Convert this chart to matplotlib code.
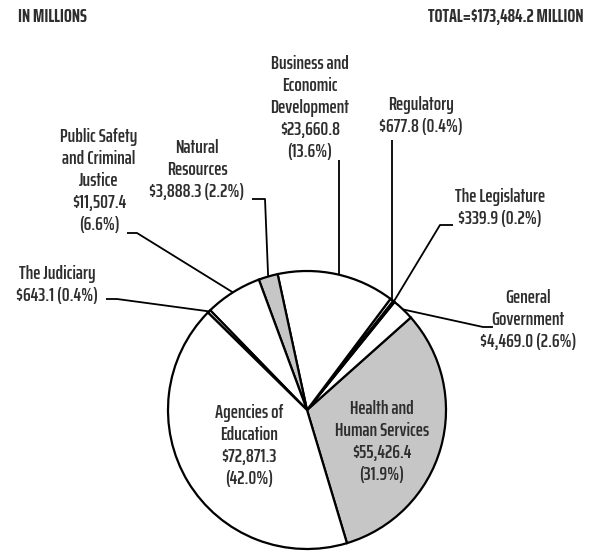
import numpy as np
import matplotlib
matplotlib.use('Agg')
from matplotlib import pyplot as plt

plt.rcParams['font.family'] = ['Saira ExtraCondensed', 'DejaVu Sans']

# slices, counter-clockwise from the Health and Human Services start edge
names = ['Health and\nHuman Services', 'General\nGovernment', 'The Legislature',
         'Regulatory', 'Business and\nEconomic\nDevelopment', 'Natural\nResources',
         'Public Safety\nand Criminal\nJustice', 'The Judiciary', 'Agencies of\nEducation']
values = [55426.4, 4469.0, 339.9, 677.8, 23660.8, 3888.3, 11507.4, 643.1, 72871.3]
pcts = [31.9, 2.6, 0.2, 0.4, 13.6, 2.2, 6.6, 0.4, 42.0]
fills = ['#c6c6c6', 'white', '#c6c6c6', 'white', 'white', '#c6c6c6', 'white', 'white', 'white']
total_label = 'TOTAL=$173,484.2 MILLION'

W, H = 591, 551
fig = plt.figure(figsize=(W / 100, H / 100), dpi=100)
ax = fig.add_axes([0, 0, 1, 1])

def P(x, y):
    # pixel coords (top-left origin) -> data coords
    return x, H - y

cx, cy = P(307, 410)
R = 139
start = -73.3
wedges, _ = ax.pie(values, colors=fills, startangle=start, counterclock=True,
                   center=(cx, cy), radius=R, frame=True,
                   wedgeprops=dict(edgecolor='black', linewidth=1.6))
ax.set_xlim(0, W)
ax.set_ylim(0, H)
ax.set_aspect('equal')
ax.axis('off')

txt = '#2e2e2e'
fs = 14
ls = 1.3
fw = 'semibold'

def money(v, p, sep):
    return '${:,.1f}{}({:.1f}%)'.format(v, sep, p)

def edge_pt(i):
    w = wedges[i]
    a = np.deg2rad((w.theta1 + w.theta2) / 2)
    return cx + R * np.cos(a), cy + R * np.sin(a)

# inside labels
ax.text(*P(382, 442), names[0] + '\n' + money(values[0], pcts[0], '\n'),
        ha='center', va='center', fontsize=fs, color=txt, linespacing=ls, fontweight=fw)
ax.text(*P(249, 446), names[8] + '\n' + money(values[8], pcts[8], '\n'),
        ha='center', va='center', fontsize=fs, color=txt, linespacing=ls, fontweight=fw)

# outside labels: (index, text center, text, leader points in pixels before the edge)
outside = [
    (1, (528, 320), names[1] + '\n' + money(values[1], pcts[1], ' '), [(493, 327), (483, 327)]),
    (2, (500, 208), names[2] + '\n' + money(values[2], pcts[2], ' '), [(453, 225), (440, 225)]),
    (3, (421, 116), names[3] + '\n' + money(values[3], pcts[3], ' '), [(392, 140)]),
    (4, (310, 108), names[4] + '\n' + money(values[4], pcts[4], '\n'), [(339, 160)]),
    (5, (197, 170), names[5] + '\n' + money(values[5], pcts[5], ' '), [(252, 199), (265, 199)]),
    (6, (99, 181), names[6] + '\n' + money(values[6], pcts[6], '\n'), [(127, 233), (137, 233)]),
    (7, (57, 285), names[7] + '\n' + money(values[7], pcts[7], ' '), [(106, 299), (117, 299)]),
]
for i, (tx, ty), label, pts in outside:
    ax.text(*P(tx, ty), label, ha='center', va='center', fontsize=fs,
            color=txt, linespacing=ls, fontweight=fw)
    xs = [P(*p)[0] for p in pts]
    ys = [P(*p)[1] for p in pts]
    ex, ey = edge_pt(i)
    if i in (3, 4):
        ex = xs[0]
    xs.append(ex)
    ys.append(ey)
    ax.plot(xs, ys, color='black', linewidth=1.3, solid_capstyle='butt')

ax.text(*P(18, 17), 'IN MILLIONS', ha='left', va='center', fontsize=13.5,
        fontweight='bold', color=txt)
ax.text(*P(584, 17), total_label, ha='right', va='center', fontsize=13.5,
        fontweight='bold', color=txt)

fig.savefig('out.png', dpi=100)
